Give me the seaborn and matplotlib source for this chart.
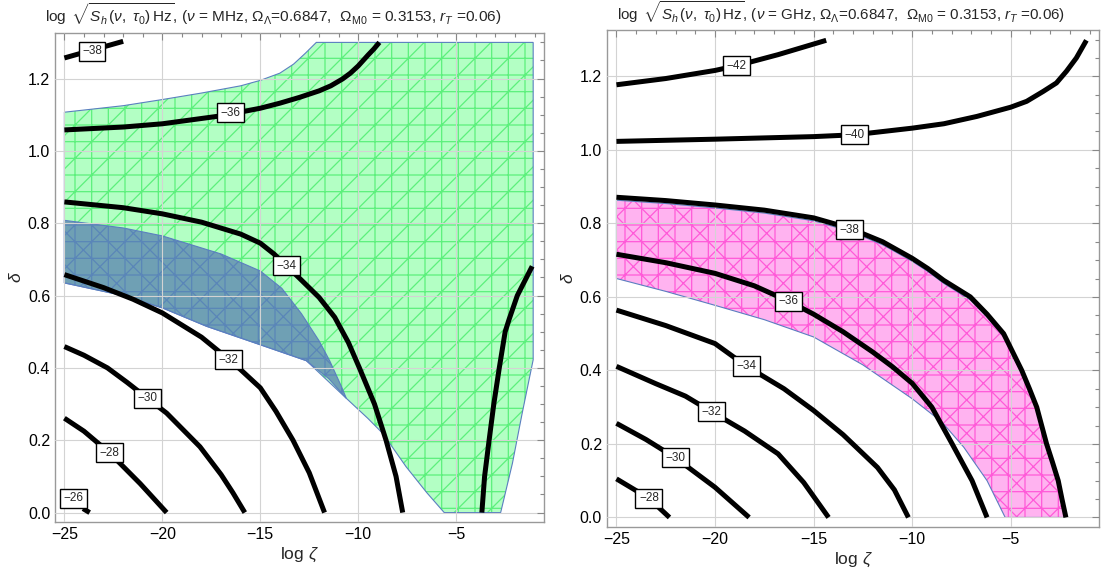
import numpy as np
import pandas as pd
import matplotlib
matplotlib.use('Agg')
import matplotlib.pyplot as plt
from matplotlib.ticker import MultipleLocator, FormatStrFormatter
import seaborn as sns

# contour lines, left panel (MHz)
mhz_levels = ['-38', '-36', '-34', '-32', '-30', '-28', '-26', '-34b']
mhz_x = {
    '-38': [-25, -23.5, -22.0],
    '-36': [-25, -22, -20, -17, -15, -14, -13, -12, -11.4, -10.8, -10.4, -10, -9.5, -9.2, -8.92],
    '-34': [-25, -22, -20, -18, -16, -15, -14.3, -13.67, -13, -12, -11.2, -10.5, -9.94, -9.17, -8.58, -8.07, -7.73],
    '-32': [-25, -23, -21.5, -20, -18, -16.64, -16, -15, -14.2, -13.33, -12.5, -11.72],
    '-30': [-25, -24, -22.8, -21.8, -20.76, -19.78, -18.08, -17, -16.4, -15.79],
    '-28': [-25, -24, -22.69, -21.13, -19.78],
    '-26': [-24.05, -23.71],
    '-34b': [-3.69, -3.55, -3.32, -3.08, -2.8, -2.5, -2.3, -1.88, -1.12],
}
mhz_y = {
    '-38': [1.257, 1.28, 1.303],
    '-36': [1.058, 1.066, 1.075, 1.097, 1.118, 1.132, 1.148, 1.166, 1.18, 1.199, 1.215, 1.235, 1.265, 1.282, 1.30],
    '-34': [0.859, 0.843, 0.826, 0.803, 0.77, 0.745, 0.715, 0.683, 0.648, 0.595, 0.54, 0.47, 0.40, 0.30, 0.20, 0.10, 0.0],
    '-32': [0.658, 0.622, 0.59, 0.552, 0.485, 0.425, 0.395, 0.345, 0.28, 0.2, 0.11, 0.0],
    '-30': [0.459, 0.435, 0.400, 0.36, 0.316, 0.275, 0.182, 0.105, 0.055, 0.0],
    '-28': [0.261, 0.225, 0.165, 0.080, 0.0],
    '-26': [0.011, 0.0],
    '-34b': [0.0, 0.1, 0.2, 0.3, 0.4, 0.5, 0.534, 0.6, 0.681],
}
mhz_label_x = [-23.59, -16.5, -13.67, -16.64, -20.76, -22.69, -24.53]
mhz_label_y = [1.276, 1.105, 0.683, 0.422, 0.316, 0.165, 0.039]
mhz_label_text = ['−38', '−36', '−34', '−32', '−30', '−28', '−26']

# allowed regions, left panel
green_x = [-25, -22, -20, -18, -16, -15, -14, -13.3, -12.7, -12.14, -1.07, -1.07, -1.63, -2.13, -2.73,
           -5.61, -6.5, -7.56, -8.75, -9.5, -10.61, -12.65, -15, -17.74, -20, -22, -25]
green_y = [1.107, 1.125, 1.142, 1.16, 1.18, 1.195, 1.215, 1.24, 1.27, 1.30, 1.30, 0.4225, 0.275, 0.136, 0.0,
           0.0, 0.055, 0.127, 0.219, 0.26, 0.316, 0.42, 0.464, 0.515, 0.566, 0.60, 0.635]
blue_x = [-25, -22, -20, -17, -15, -13.9, -12.9, -12.0, -11.46, -10.87, -10.61,
          -11.5, -12.65, -15, -17.74, -20, -22, -25]
blue_y = [0.808, 0.787, 0.765, 0.715, 0.668, 0.62, 0.55, 0.475, 0.42, 0.35, 0.316,
          0.37, 0.42, 0.464, 0.515, 0.566, 0.60, 0.635]

# contour lines, right panel (GHz)
ghz_levels = ['-42', '-40', '-38', '-36', '-34', '-32', '-30', '-28']
ghz_x = {
    '-42': [-25, -22.5, -20, -18.9, -16.8, -14.36],
    '-40': [-25, -20, -15, -12.93, -10, -8.39, -6.71, -5, -4.19, -3.35, -2.68, -2.17, -1.67, -1.16],
    '-38': [-25, -22.5, -20, -17.5, -15, -13.18, -11.5, -10, -9.2, -8.4, -7.05, -6.2, -5.36, -4.9,
            -4.44, -4.05, -3.68, -3.43, -3.18, -2.88, -2.59, -2.4, -2.2],
    '-36': [-25, -22.5, -20, -18, -16.26, -15, -13.5, -12, -11, -10, -9.0, -7.97, -6.96, -6.2],
    '-34': [-25, -22.5, -20, -18.42, -16.5, -15, -13.5, -11.76, -10.9, -10.19],
    '-32': [-25, -23.01, -21.5, -20.19, -18.5, -16.8, -15.5, -14.24],
    '-30': [-25, -23.5, -22.0, -20, -18.27],
    '-28': [-25, -23.35, -22.31],
}
ghz_y = {
    '-42': [1.177, 1.194, 1.216, 1.229, 1.259, 1.298],
    '-40': [1.023, 1.029, 1.036, 1.041, 1.059, 1.071, 1.091, 1.116, 1.132, 1.159, 1.182, 1.214, 1.25, 1.298],
    '-38': [0.871, 0.862, 0.85, 0.836, 0.815, 0.787, 0.75, 0.705, 0.677, 0.645, 0.60, 0.553, 0.5, 0.45,
            0.4, 0.35, 0.3, 0.25, 0.2, 0.15, 0.1, 0.05, 0.0],
    '-36': [0.716, 0.693, 0.664, 0.63, 0.588, 0.553, 0.505, 0.45, 0.41, 0.365, 0.3, 0.2, 0.1, 0.0],
    '-34': [0.564, 0.522, 0.473, 0.412, 0.35, 0.291, 0.225, 0.136, 0.075, 0.0],
    '-32': [0.411, 0.364, 0.33, 0.288, 0.235, 0.173, 0.095, 0.0],
    '-30': [0.256, 0.212, 0.162, 0.082, 0.0],
    '-28': [0.105, 0.052, 0.0],
}
ghz_label_x = [-18.9, -12.93, -13.18, -16.26, -18.42, -20.19, -22.0, -23.35]
ghz_label_y = [1.229, 1.041, 0.783, 0.588, 0.412, 0.288, 0.162, 0.052]
ghz_label_text = ['−42', '−40', '−38', '−36', '−34', '−32', '−30', '−28']

# allowed region, right panel
pink_x = [-25, -22.5, -20, -17.5, -15, -13.18, -11.5, -10, -9.2, -8.4, -7.05, -6.2, -5.36, -4.9,
          -4.44, -4.05, -3.68, -3.43, -3.18, -2.88, -2.59, -2.4, -2.2,
          -5.28, -6.2, -7.38, -8.5, -10, -12.5, -15, -17.5, -20, -22.5, -25]
pink_y = [0.863, 0.854, 0.842, 0.828, 0.807, 0.779, 0.742, 0.697, 0.669, 0.637, 0.592, 0.545, 0.492, 0.442,
          0.393, 0.343, 0.294, 0.245, 0.196, 0.147, 0.098, 0.049, 0.0,
          0.0, 0.1, 0.191, 0.26, 0.323, 0.415, 0.491, 0.538, 0.577, 0.615, 0.65]


def curves_frame(levels, xs, ys):
    rows = []
    for lev in levels:
        for a, b in zip(xs[lev], ys[lev]):
            rows.append({'curve': lev, 'x': a, 'y': b})
    return pd.DataFrame(rows)


sns.set_theme(style='white')
plt.rcParams['font.family'] = ['Liberation Sans', 'DejaVu Sans']
plt.rcParams['mathtext.fontset'] = 'custom'
plt.rcParams['mathtext.rm'] = 'Liberation Sans'
plt.rcParams['mathtext.it'] = 'Liberation Sans:italic'
plt.rcParams['mathtext.bf'] = 'Liberation Sans:bold'
plt.rcParams['hatch.linewidth'] = 0.9

fig = plt.figure(figsize=(11.02, 5.75), dpi=100)
ax1 = fig.add_axes([0.0499, 0.0922, 0.4437, 0.8504])
ax2 = fig.add_axes([0.5508, 0.0835, 0.4465, 0.8643])

title_fmt = (r'$\log\ \sqrt{S_h\,(\nu,\ \tau_0)\,\mathrm{Hz}}$, ($\nu$ = %s, '
             r'$\Omega_\Lambda$=0.6847,  $\Omega_{\mathrm{M0}}$ = 0.3153, $r_T$ =0.06)')


def region(ax, xs, ys, face, hatchc, hatch):
    ax.fill(xs, ys, facecolor=face, edgecolor=hatchc, hatch=hatch, linewidth=0, zorder=1)
    ax.fill(xs, ys, facecolor='none', edgecolor='#5b7fc0', linewidth=0.8, zorder=1.5)


def style_axes(ax, unit, title_x, title_size):
    ax.set_xlim(-25.48, -0.52)
    ax.set_ylim(-0.026, 1.326)
    ax.xaxis.set_major_locator(MultipleLocator(5))
    ax.xaxis.set_minor_locator(MultipleLocator(1))
    ax.yaxis.set_major_locator(MultipleLocator(0.2))
    ax.yaxis.set_minor_locator(MultipleLocator(0.05))
    ax.yaxis.set_major_formatter(FormatStrFormatter('%.1f'))
    ax.tick_params(which='both', direction='in', top=True, right=True,
                   colors='#888888', labelcolor='black', labelsize=11.5, width=0.8)
    ax.tick_params(which='major', length=5)
    ax.tick_params(which='minor', length=3)
    ax.grid(True, which='major', color='#d3d3d3', linewidth=0.8)
    ax.set_axisbelow(False)
    for s in ax.spines.values():
        s.set_color('#999999')
        s.set_linewidth(1.0)
    ax.set_xlabel(r'log $\zeta$', fontsize=12.5, labelpad=3)
    ax.set_ylabel(r'$\delta$', fontsize=12.5, labelpad=3)
    ax.set_title(title_fmt % unit, fontsize=title_size, pad=7, x=title_x)


def contour_labels(ax, lx, ly, texts):
    for a, b, t in zip(lx, ly, texts):
        ax.text(a, b, t, fontsize=8.5, ha='center', va='center', zorder=5,
                bbox=dict(boxstyle='square,pad=0.3', facecolor='white', edgecolor='black', linewidth=1.0))


# left panel
region(ax1, green_x, green_y, '#b3ffc4', '#5cf07c', '+/')
region(ax1, blue_x, blue_y, '#6fa0b4', '#5a86b8', '+x')
df1 = curves_frame(mhz_levels, mhz_x, mhz_y)
sns.lineplot(data=df1, x='x', y='y', units='curve', estimator=None, sort=False,
             color='black', linewidth=3.6, ax=ax1, legend=False, zorder=3,
             solid_capstyle='butt', solid_joinstyle='round')
contour_labels(ax1, mhz_label_x, mhz_label_y, mhz_label_text)
style_axes(ax1, 'MHz', 0.447, 11.1)

# right panel
region(ax2, pink_x, pink_y, '#ffb3f0', '#ff5ad8', '+x')
df2 = curves_frame(ghz_levels, ghz_x, ghz_y)
sns.lineplot(data=df2, x='x', y='y', units='curve', estimator=None, sort=False,
             color='black', linewidth=3.6, ax=ax2, legend=False, zorder=3,
             solid_capstyle='butt', solid_joinstyle='round')
contour_labels(ax2, ghz_label_x, ghz_label_y, ghz_label_text)
style_axes(ax2, 'GHz', 0.476, 10.9)

fig.savefig('out.png', dpi=100)
